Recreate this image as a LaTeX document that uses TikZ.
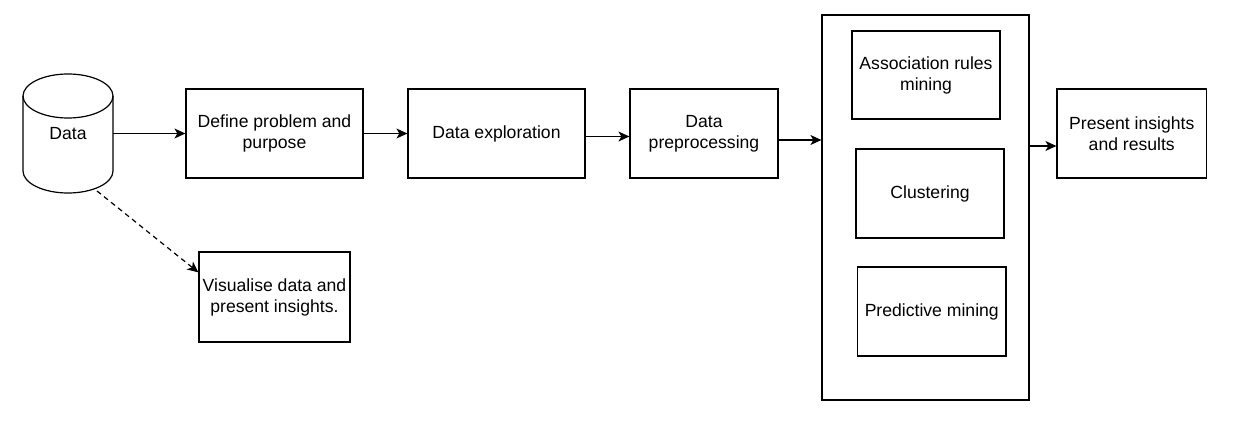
\documentclass[tikz,border=0pt]{standalone}
\usepackage{fontspec}
\setmainfont{Liberation Sans}
\usetikzlibrary{arrows.meta,calc}
\begin{document}
\begin{tikzpicture}[x=1pt,y=-1pt,
  box/.style={draw,line width=1.2pt,align=center,inner sep=0pt,font=\fontsize{17.6}{21}\selectfont},
  arr/.style={line width=1.2pt,-{Stealth[length=11pt,width=10pt,inset=3pt]}},
  lbl/.style={inner sep=0pt,align=center,font=\fontsize{17.6}{21}\selectfont}]
\useasboundingbox (0,0) rectangle (1246,430);
% cylinder
\node[lbl,minimum width=90pt,minimum height=119pt] (data) at (68,133.5) {Data};
\draw[line width=1.2pt] (68,96) ellipse [x radius=45, y radius=22];
\draw[line width=1.2pt] (23,96) -- (23,171) arc[start angle=180,end angle=360,x radius=45,y radius=-22] -- (113,96);
\node[box,minimum width=177pt,minimum height=89pt] (define) at (274.5,133.5) {Define problem and\\purpose};
\node[box,minimum width=177pt,minimum height=89pt] (explore) at (496.5,133.5) {Data exploration};
\node[box,minimum width=148pt,minimum height=89pt] (prep) at (704,133.5) {Data\\preprocessing};
\node[box,minimum width=207pt,minimum height=385pt] (big) at (925.5,207.5) {};
\node[box,minimum width=148pt,minimum height=88pt] (assoc) at (926,75) {Association rules\\mining};
\node[box,minimum width=148pt,minimum height=89pt] (clust) at (930,193.5) {Clustering};
\node[box,minimum width=148.5pt,minimum height=89pt] (pred) at (931.75,311.5) {Predictive mining};
\node[box,minimum width=149.5pt,minimum height=89pt] (present) at (1131.75,133.5) {Present insights\\and results};
\node[box,minimum width=151pt,minimum height=90pt] (vis) at (274.5,297) {Visualise data and\\present insights.};
% connectors
\draw[arr] (data.east) -- (define.west);
\draw[arr] (define.east) -- (explore.west);
\coordinate (c1) at ($(explore.east)+(0,3)$);
\draw[arr] (c1) -- (c1 -| prep.west);
\coordinate (c2) at ($(prep.east)+(0,6.5)$);
\draw[arr] (c2) -- (c2 -| big.west);
\coordinate (c3) at ($(big.east)+(0,-61.5)$);
\coordinate (c3) at (c3 |- 0,146);
\draw[arr] (c3) -- (c3 -| present.west);
\coordinate (dstart) at (97,191);
\coordinate (dend) at ($(vis.north west)!0.23!(vis.south west)$);
\draw[arr,dashed,dash pattern=on 5pt off 4pt] (dstart) -- (dend);
\end{tikzpicture}
\end{document}
